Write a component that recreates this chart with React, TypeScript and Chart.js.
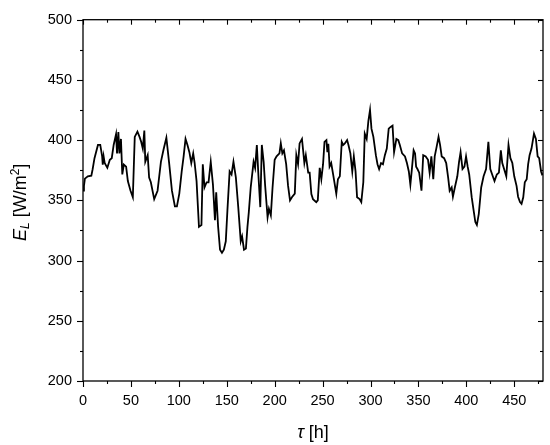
import React, { useEffect, useRef } from "react";
import { Chart, registerables } from "chart.js";

Chart.register(...registerables);

// time in hours
const hours = [
  0, 1, 2, 5, 8.7, 10, 12, 15.6, 18, 20, 20.6, 21.5, 22.6, 25.4, 28, 30, 32, 34.5, 35.5, 36.9,
  38, 39.6, 41, 42.6, 45, 46.8, 49.6, 52, 54, 56.8, 59, 60.7, 62.4, 64, 65, 67.5, 69, 70.8, 74.3, 77.8,
  81.3, 84, 87, 90, 92.8, 95.9, 98, 100.5, 103, 105, 107, 109, 111, 113, 115, 116.5, 118.5, 121, 123.6, 125,
  126.8, 129, 131, 133.3, 135.6, 137.7, 139, 141, 143, 145, 147, 149, 150.7, 153, 155, 157, 159.5, 162, 164.6, 166,
  168, 170, 171.6, 173, 175, 178, 179.6, 181.4, 183, 185, 186.6, 188.5, 190, 192.6, 194, 196, 197.8, 200, 202, 205,
  206.4, 208, 209.7, 212, 214, 216, 218, 221, 222.6, 224.4, 226, 228.5, 230, 231, 232.5, 235, 236.5, 238.3, 240, 243.4,
  245, 247, 248.7, 250.5, 252, 254, 255, 256, 257.3, 259, 261, 264.3, 266, 268, 270, 271.5, 273, 275.6, 277, 279,
  281, 282.6, 284.4, 286, 288.6, 290.4, 292.5, 294, 296, 297.8, 299.5, 301, 303, 305.6, 307.3, 309, 311, 313, 315, 317,
  319, 321, 323, 324.6, 327, 329, 330.6, 333, 336, 338, 340, 341.6, 343.3, 345, 346.5, 347.6, 349, 350.8, 353.2, 355,
  357.6, 360, 361.7, 363.5, 365.5, 367, 369, 371, 372.6, 374.3, 376.8, 379, 381, 382.6, 384.7, 386, 388, 390.6, 392.4, 394,
  396, 398, 399.7, 401.4, 403, 405.6, 407.6, 409.4, 411, 413, 415.5, 418, 420.6, 423, 425, 427.6, 429.4, 431.8, 434, 436,
  437.5, 439, 441.7, 444, 446, 448, 450, 452.4, 454, 456, 457.6, 459.4, 461, 463, 464.5, 466, 468, 470.6, 472.6, 474.4,
  476, 478, 479, 480,
];

// E_L in W/m²
const irradiance = [
  358, 362, 368, 370, 370.5, 375.6, 385, 396, 396, 386.5, 379.7, 386.5, 381, 377, 383.7, 385, 396, 405, 389, 406.8,
  389, 401, 371.5, 379.7, 378, 366, 358, 352.6, 402.7, 407, 402.7, 398.6, 393, 408, 382, 387.5, 369, 365, 351, 358,
  382, 392, 402, 380, 358, 345, 345, 355.6, 374, 386.5, 401, 396, 390, 381, 389, 381, 366, 328, 329.5, 380,
  360.7, 365, 365, 382, 363, 333.6, 356.6, 328, 309, 306.5, 309, 316, 341.7, 374, 371.5, 382, 369, 344.4, 316, 320,
  309, 310, 328, 340, 360.7, 382, 377, 396, 371.5, 344.4, 396, 382, 363, 336, 343, 337.6, 360.7, 383.7, 386.5, 389,
  397.3, 389, 391.6, 380, 362, 350, 352.6, 355.6, 387.5, 380, 397.3, 401, 389, 381, 387.5, 373, 373, 355.3, 351, 348.5,
  350, 377, 367.5, 380, 398.6, 400, 390, 397, 378, 381, 371.5, 355.6, 367.5, 370, 398.6, 396, 397, 400, 396, 389,
  374, 386.5, 374, 352.6, 351, 348.5, 365, 405.4, 401, 416, 425, 409.5, 402.7, 387.5, 380, 376, 381, 380, 387.5, 393,
  409.5, 411, 412, 390, 401, 400, 396, 389, 386.5, 381, 374, 363, 377, 391.6, 389, 378, 376, 373, 358, 387.5,
  386.5, 383.7, 373, 386.5, 367.5, 386.5, 394.4, 402.7, 396, 386.5, 385, 381, 369, 358, 360.7, 353, 360.7, 370, 382, 390,
  376, 378, 386.5, 378, 371.5, 352.6, 341.7, 332, 329.5, 338.8, 360.7, 370, 376, 398.6, 376, 370, 366, 371.5, 373, 391.6,
  381, 377, 370, 396, 385, 381, 370, 362, 353, 348.5, 347, 352.6, 365, 367.5, 380, 387.5, 393, 405.4, 401, 386.5,
  385, 374, 371.5, 372,
];

const xTickValues = [0, 50, 100, 150, 200, 250, 300, 350, 400, 450];
const yTickValues = [200, 250, 300, 350, 400, 450, 500];
const X_MIN = 0;
const X_MAX = 480;
const Y_MIN = 200;
const Y_MAX = 500;
const X_MINOR_STEP = 25;
const Y_MINOR_STEP = 25;

const FONT = '"Liberation Sans", Arial, Helvetica, sans-serif';

const framePlugin = {
  id: "frameAndTitles",
  afterDraw(chart: any) {
    const { ctx, chartArea: a, scales } = chart;
    const xs = scales.x;
    const ys = scales.y;
    ctx.save();
    ctx.strokeStyle = "#000";
    ctx.lineWidth = 1.3;
    ctx.strokeRect(a.left, a.top, a.right - a.left, a.bottom - a.top);
    ctx.lineWidth = 1.1;
    const seg = (x1: number, y1: number, x2: number, y2: number) => {
      ctx.beginPath();
      ctx.moveTo(x1, y1);
      ctx.lineTo(x2, y2);
      ctx.stroke();
    };
    for (let v = X_MIN; v <= X_MAX; v += X_MINOR_STEP) {
      const px = Math.round(xs.getPixelForValue(v)) + 0.5;
      const major = xTickValues.includes(v);
      const outL = major ? 6 : 3;
      const inL = major ? 5 : 3;
      seg(px, a.bottom, px, a.bottom + outL);
      seg(px, a.top, px, a.top + inL);
    }
    for (let v = Y_MIN; v <= Y_MAX; v += Y_MINOR_STEP) {
      const py = Math.round(ys.getPixelForValue(v)) + 0.5;
      const major = yTickValues.includes(v);
      const outL = major ? 6 : 3;
      const inL = major ? 5 : 3;
      seg(a.left - outL, py, a.left, py);
      seg(a.right - inL, py, a.right, py);
    }

    ctx.fillStyle = "#000";
    ctx.textBaseline = "alphabetic";
    ctx.textAlign = "left";

    // x title: τ [h]
    const xParts = [
      { t: "τ", f: `italic 18px ${FONT}`, dy: 0 },
      { t: " [h]", f: `18px ${FONT}`, dy: 0 },
    ];
    let w = 0;
    for (const p of xParts) {
      ctx.font = p.f;
      w += ctx.measureText(p.t).width;
    }
    let cx = (a.left + a.right) / 2 - w / 2;
    for (const p of xParts) {
      ctx.font = p.f;
      ctx.fillText(p.t, cx, 438 + p.dy);
      cx += ctx.measureText(p.t).width;
    }

    // y title: E_L [W/m²]
    const yParts = [
      { t: "E", f: `italic 18px ${FONT}`, dy: 0 },
      { t: "L", f: `italic 12px ${FONT}`, dy: 3 },
      { t: " [W/m", f: `18px ${FONT}`, dy: 0 },
      { t: "2", f: `12px ${FONT}`, dy: -7 },
      { t: "]", f: `18px ${FONT}`, dy: 0 },
    ];
    w = 0;
    for (const p of yParts) {
      ctx.font = p.f;
      w += ctx.measureText(p.t).width;
    }
    ctx.translate(26, (a.top + a.bottom) / 2 + 2);
    ctx.rotate(-Math.PI / 2);
    let tx = -w / 2;
    for (const p of yParts) {
      ctx.font = p.f;
      ctx.fillText(p.t, tx, p.dy);
      tx += ctx.measureText(p.t).width;
    }
    ctx.restore();
  },
};

export default function App() {
  const ref = useRef<HTMLCanvasElement | null>(null);
  useEffect(() => {
    if (!ref.current) return;
    const data = hours.map((h, i) => ({ x: h, y: irradiance[i] }));
    const chart = new Chart(ref.current, {
      type: "line",
      data: {
        datasets: [
          {
            data,
            borderColor: "#000",
            borderWidth: 1.8,
            pointRadius: 0,
            tension: 0,
            fill: false,
          },
        ],
      },
      options: {
        responsive: false,
        animation: false,
        parsing: false as any,
        layout: { padding: { top: 12, right: 7, left: 0, bottom: 0 } },
        plugins: { legend: { display: false }, tooltip: { enabled: false } },
        scales: {
          x: {
            type: "linear",
            min: X_MIN,
            max: X_MAX,
            grid: { display: false, drawTicks: false, tickLength: 0 },
            border: { display: false },
            afterFit: (s: any) => {
              s.height = 64;
            },
            afterBuildTicks: (s: any) => {
              s.ticks = xTickValues.map((v) => ({ value: v }));
            },
            ticks: {
              color: "#000",
              font: { family: FONT, size: 14.5 },
              padding: 11,
              maxRotation: 0,
              autoSkip: false,
            },
          },
          y: {
            type: "linear",
            min: Y_MIN,
            max: Y_MAX,
            grid: { display: false, drawTicks: false, tickLength: 0 },
            border: { display: false },
            afterFit: (s: any) => {
              s.width = 83;
            },
            afterBuildTicks: (s: any) => {
              s.ticks = yTickValues.map((v) => ({ value: v }));
            },
            ticks: {
              color: "#000",
              font: { family: FONT, size: 14.5 },
              padding: 11,
              autoSkip: false,
            },
          },
        },
      },
      plugins: [framePlugin],
    });
    return () => chart.destroy();
  }, []);
  return (
    <div style={{ position: "absolute", left: 0, top: 0, width: 550, height: 445, background: "#fff" }}>
      <canvas ref={ref} width={550} height={445} style={{ width: 550, height: 445, display: "block" }} />
    </div>
  );
}
